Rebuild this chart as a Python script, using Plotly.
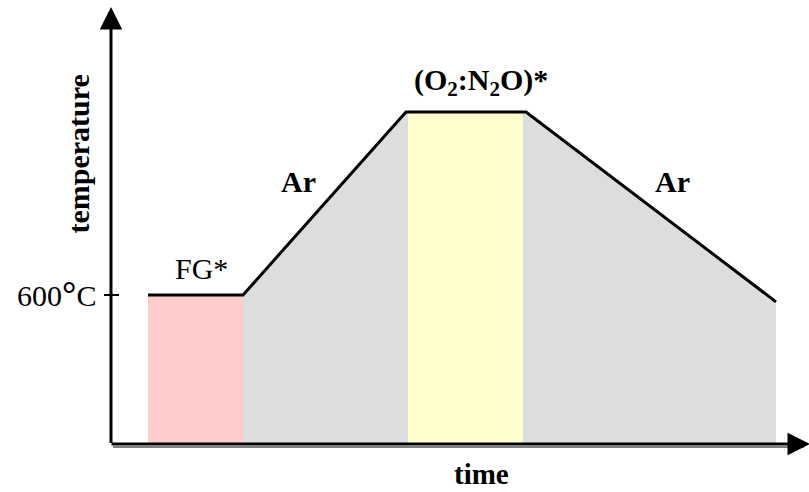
import plotly.graph_objects as go

# Heating profile: time (arb. units) vs temperature (°C)
profile_time = [0, 9.5, 25.8, 37.8, 62.8]
profile_temp = [600, 600, 1000, 1000, 585]

# Gas atmosphere windows (start, end) and their labels
fg_window = [0, 9.5]
oxid_window = [26.0, 37.5]
SUB = '<sub>2</sub>'
stage_labels = ["FG*", "Ar", "(O%s:N%sO)*" % (SUB, SUB), "Ar"]

tick_value = 600
tick_text = '600<b><span style="font-size:36px">°</span></b>C'
x_title = "time"
y_title = "temperature"

# axis origin / extents in data units
t_origin, T_origin = -3.7, 274.3
t_end, T_end = 66.0, 1229.5

FONT = "Liberation Serif"
FS = 30
fig = go.Figure()

# grey area below the whole profile
gx = [profile_time[1]] + profile_time[1:] + [profile_time[-1]]
gy = [T_origin] + profile_temp[1:] + [T_origin]
fig.add_trace(go.Scatter(x=gx, y=gy, fill="toself", fillcolor="#dddddd",
                         line=dict(width=0), mode="lines", hoverinfo="skip"))

# forming gas window (pink)
fig.add_trace(go.Scatter(
    x=[fg_window[0], fg_window[1], fg_window[1], fg_window[0]],
    y=[T_origin, T_origin, profile_temp[0], profile_temp[0]],
    fill="toself", fillcolor="#ffcccc", line=dict(width=0), mode="lines",
    hoverinfo="skip"))

# oxidising window (yellow)
fig.add_trace(go.Scatter(
    x=[oxid_window[0], oxid_window[1], oxid_window[1], oxid_window[0]],
    y=[T_origin, T_origin, profile_temp[2], profile_temp[2]],
    fill="toself", fillcolor="#ffffcc", line=dict(width=0), mode="lines",
    hoverinfo="skip"))

# profile line
fig.add_trace(go.Scatter(x=profile_time, y=profile_temp, mode="lines",
                         line=dict(color="black", width=3), hoverinfo="skip"))

shapes = [
    # shadow under the time axis
    dict(type="line", xref="x", yref="y", x0=t_origin + 0.2, x1=t_end - 0.4,
         y0=T_origin - 6.5, y1=T_origin - 6.5, line=dict(color="#808080", width=2)),
    # tick at 600 °C
    dict(type="line", xref="x", yref="y", x0=t_origin - 0.7, x1=t_origin + 0.8,
         y0=tick_value, y1=tick_value, line=dict(color="black", width=2)),
]

annotations = [
    # axes with arrowheads
    dict(x=t_origin, y=T_end, ax=t_origin, ay=T_origin - 1, xref="x", yref="y",
         axref="x", ayref="y", text="", showarrow=True, arrowhead=2,
         arrowsize=1.5, arrowwidth=3, arrowcolor="black", standoff=0),
    dict(x=t_end + 0.2, y=T_origin, ax=t_origin - 0.1, ay=T_origin, xref="x",
         yref="y", axref="x", ayref="y", text="", showarrow=True, arrowhead=2,
         arrowsize=1.5, arrowwidth=3, arrowcolor="black", standoff=0),
    dict(x=t_origin, y=tick_value, xref="x", yref="y", text=tick_text,
         showarrow=False, xanchor="right", yanchor="middle", xshift=-13,
         yshift=1, font=dict(family=FONT, size=FS, color="black")),
    dict(x=t_origin, y=(T_origin + T_end) / 2, xref="x", yref="y",
         text="<b>%s</b>" % y_title, textangle=-90, showarrow=False,
         xshift=-33, yshift=71,
         font=dict(family=FONT, size=FS, color="black")),
    dict(x=(t_origin + t_end) / 2, y=T_origin, xref="x", yref="y",
         text="<b>%s</b>" % x_title, showarrow=False, yanchor="middle",
         xshift=22, yshift=-30,
         font=dict(family=FONT, size=FS - 1, color="black")),
]

# stage labels placed over each segment of the profile
seg_shift = [(6, 27, False), (-26, 22, True), (15, 30, True), (21, 25, True)]
for i, lab in enumerate(stage_labels):
    xm = (profile_time[i] + profile_time[i + 1]) / 2
    ym = (profile_temp[i] + profile_temp[i + 1]) / 2
    dx, dy, bold = seg_shift[i]
    annotations.append(dict(
        x=xm, y=ym, xref="x", yref="y", showarrow=False,
        text="<b>%s</b>" % lab if bold else lab, xshift=dx, yshift=dy,
        font=dict(family=FONT, size=FS, color="black")))

fig.update_layout(
    width=809, height=492, margin=dict(l=0, r=0, t=0, b=0),
    paper_bgcolor="white", plot_bgcolor="white", showlegend=False,
    xaxis=dict(range=[-14.8, 66.1], visible=False, fixedrange=True),
    yaxis=dict(range=[169.4, 1244.8], visible=False, fixedrange=True),
    shapes=shapes, annotations=annotations,
)

fig.write_html("out.html")
